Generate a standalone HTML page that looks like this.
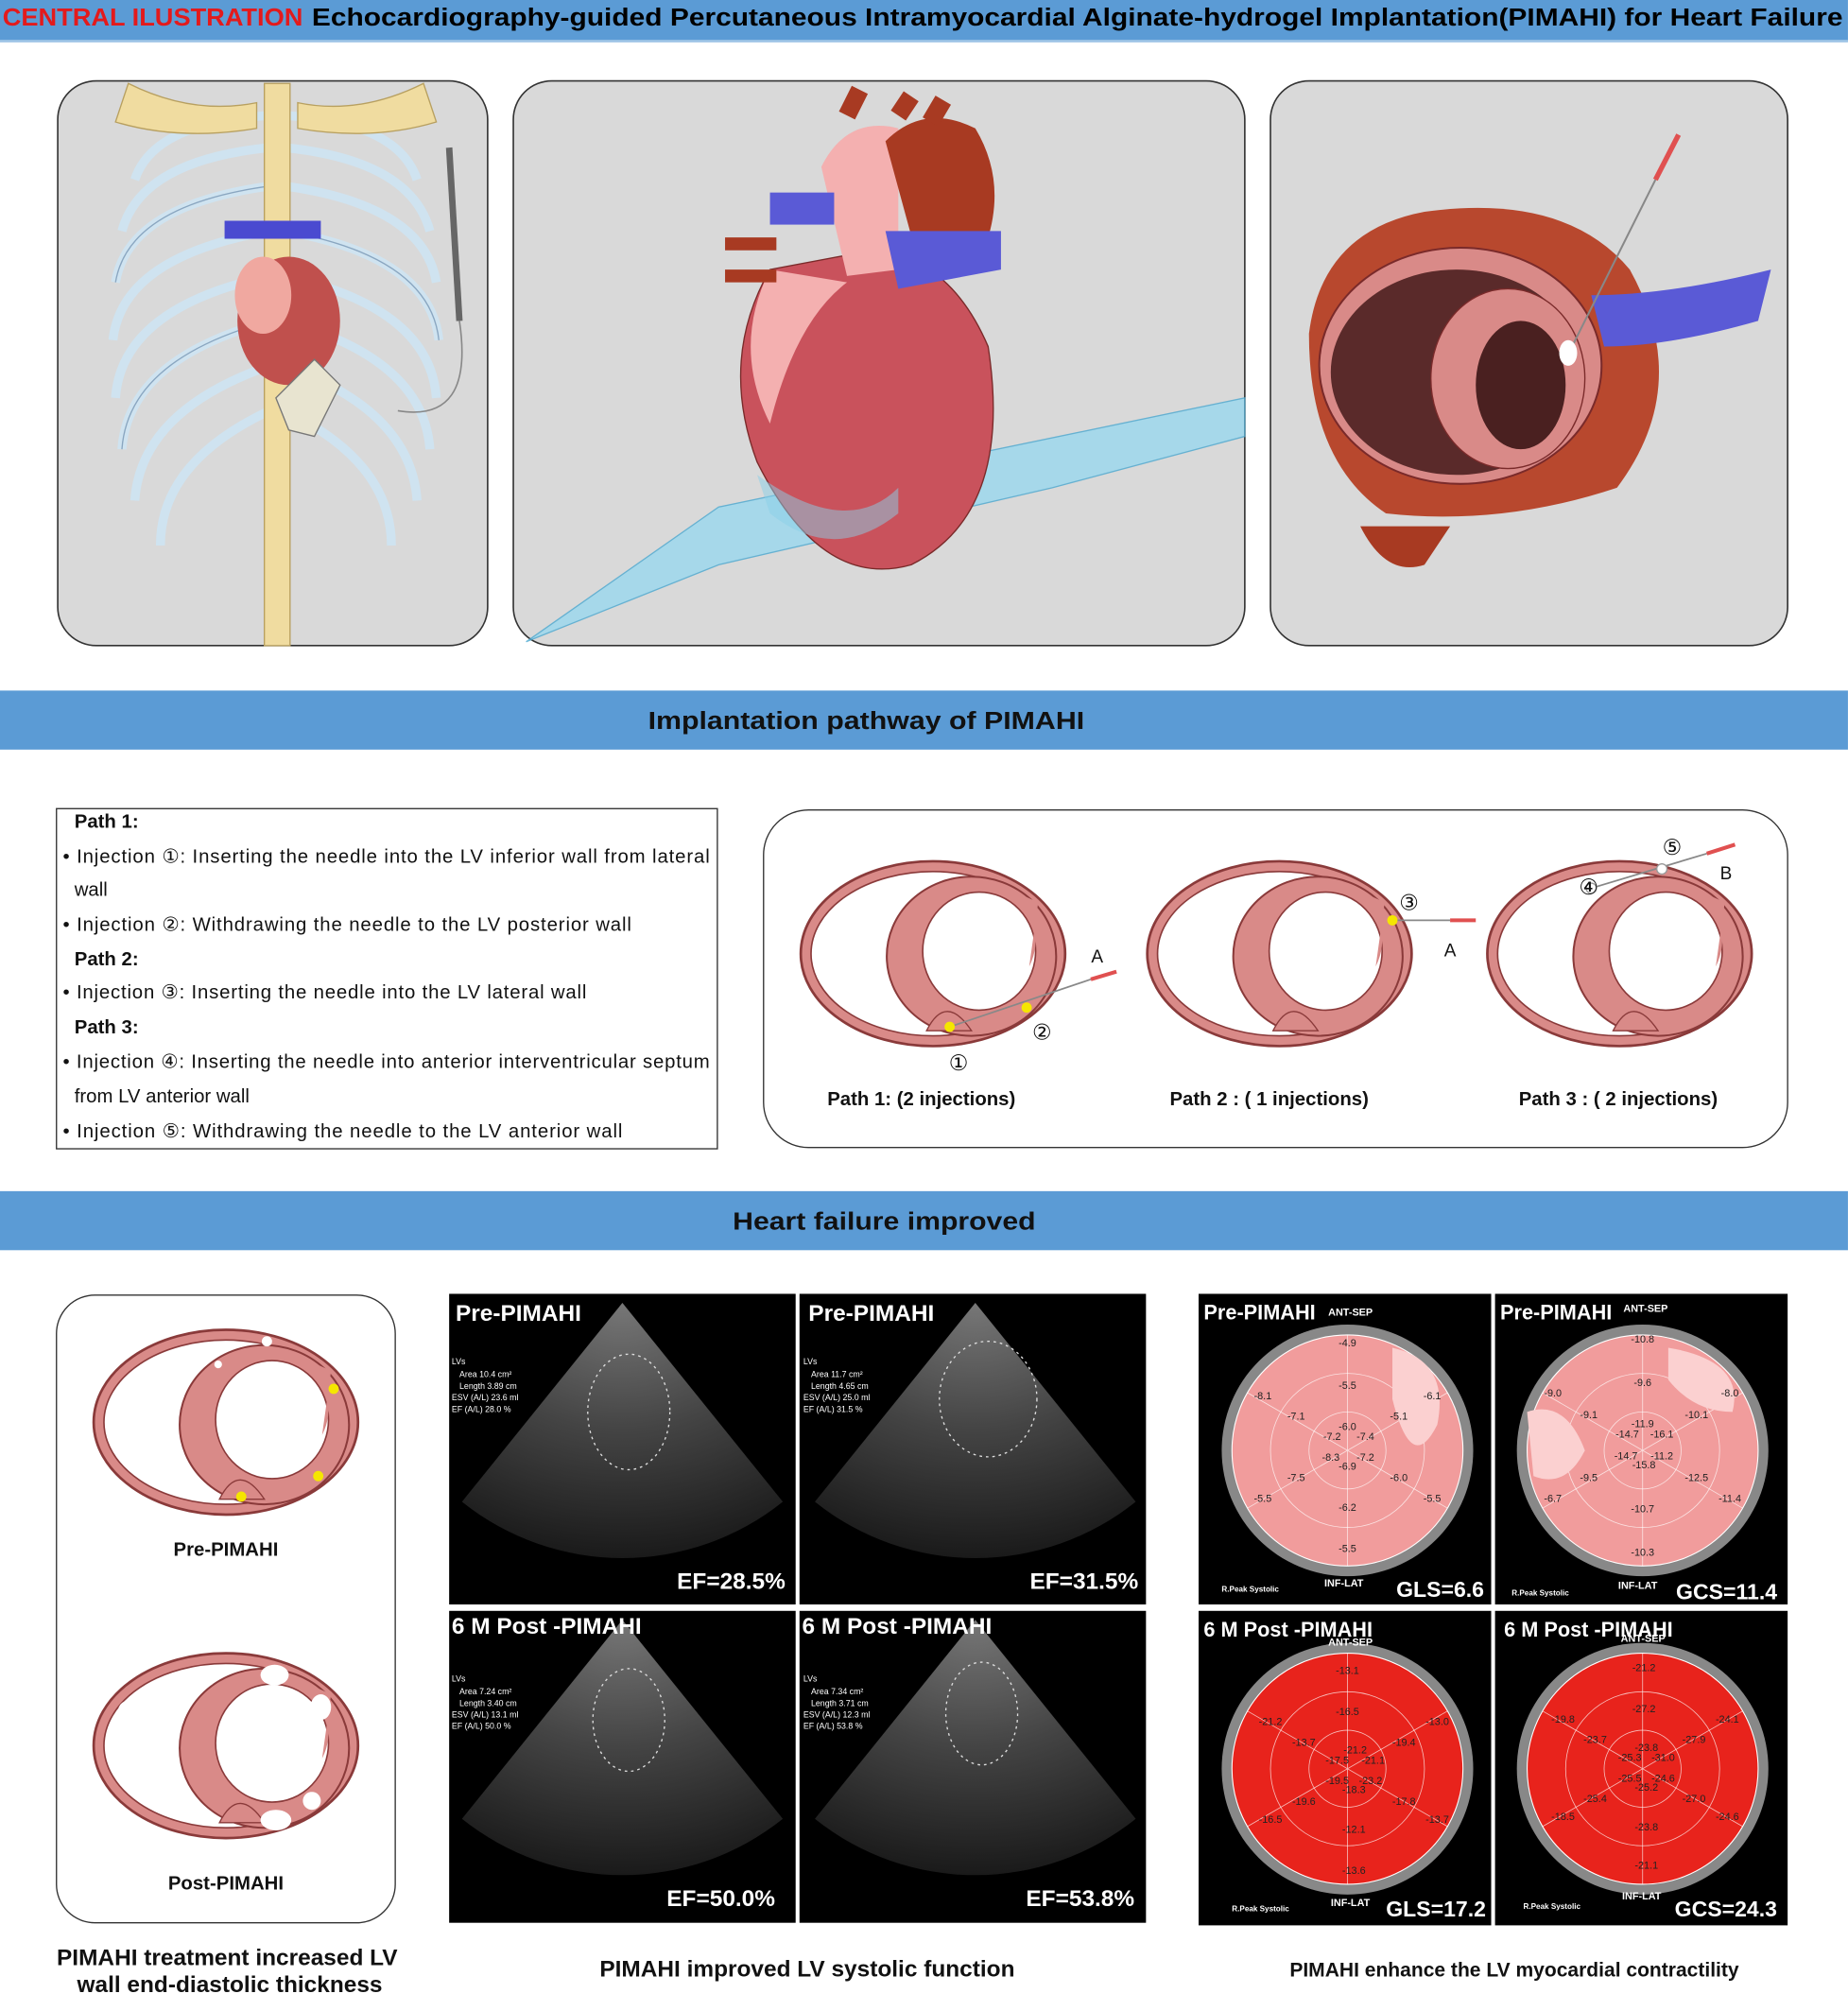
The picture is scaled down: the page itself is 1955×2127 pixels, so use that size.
<!DOCTYPE html>
<html><head><meta charset="utf-8"><style>
html,body{margin:0;padding:0;background:#fff;}
svg{display:block;}
text{font-family:"Liberation Sans",sans-serif;}
</style></head><body>
<svg width="1955" height="2127" viewBox="0 0 1955 2127" xmlns="http://www.w3.org/2000/svg">
<defs>
<radialGradient id="fan" cx="0.5" cy="0" r="1">
<stop offset="0" stop-color="#777"/><stop offset="0.5" stop-color="#444"/><stop offset="1" stop-color="#1a1a1a"/>
</radialGradient>
<clipPath id="c1"><rect x="350" y="1008" width="270" height="242"/></clipPath>
<clipPath id="c2"><rect x="623" y="1008" width="270" height="242"/></clipPath>
<clipPath id="c3"><rect x="350" y="1255" width="270" height="243"/></clipPath>
<clipPath id="c4"><rect x="623" y="1255" width="270" height="243"/></clipPath>
<g id="xs">
<ellipse cx="0" cy="0" rx="103" ry="72" fill="#d98a88" stroke="#8a3a3a" stroke-width="2"/>
<ellipse cx="0" cy="0" rx="95" ry="64" fill="#fff" stroke="#8a3a3a" stroke-width="1.2"/>
<ellipse cx="30" cy="2" rx="66" ry="62" fill="#d98a88" stroke="#8a3a3a" stroke-width="1.5"/>
<ellipse cx="36" cy="-2" rx="44" ry="46" fill="#fff" stroke="#8a3a3a" stroke-width="1.2"/>
<path d="M-5 60 Q10 30 30 60 Z" fill="#d98a88" stroke="#8a3a3a"/>
<path d="M60 -50 Q90 -20 75 10 L82 -40 Z" fill="#d98a88"/>
</g>
<g id="bull">
<circle cx="0" cy="0" r="98" fill="#888"/>
<circle cx="0" cy="0" r="90" fill="currentColor" stroke="#fff" stroke-width="0.8"/>
<circle cx="0" cy="0" r="60" fill="none" stroke="#fff" stroke-width="0.6" opacity="0.7"/>
<circle cx="0" cy="0" r="30" fill="none" stroke="#fff" stroke-width="0.6" opacity="0.7"/>
<g stroke="#fff" stroke-width="0.6" opacity="0.7">
<line x1="0" y1="-90" x2="0" y2="90"/><line x1="-78" y1="-45" x2="78" y2="45"/><line x1="-78" y1="45" x2="78" y2="-45"/>
</g>
</g>
</defs>
<g transform="scale(1.3576)">
<rect x="0" y="0" width="1440" height="32" fill="#5b9bd5"/>
<rect x="0" y="31" width="1440" height="2" fill="#9cc3e6"/>
<text x="2" y="20" font-size="19" font-weight="bold" fill="#e31a1c" textLength="234" lengthAdjust="spacingAndGlyphs">CENTRAL ILUSTRATION</text>
<text x="243" y="20" font-size="19" font-weight="bold" fill="#000" textLength="1193" lengthAdjust="spacingAndGlyphs">Echocardiography-guided Percutaneous Intramyocardial Alginate-hydrogel Implantation(PIMAHI) for  Heart Failure</text>

<rect x="45" y="63" width="335" height="440" rx="30" fill="#d9d9d9" stroke="#333" stroke-width="1.2"/>
<g fill="none" stroke="#cfe3f0" stroke-width="7">
<path d="M210 90 Q120 95 105 140"/><path d="M222 90 Q310 95 325 140"/>
<path d="M210 115 Q110 125 95 180"/><path d="M222 115 Q320 125 335 180"/>
<path d="M210 145 Q100 160 90 220"/><path d="M222 145 Q330 160 340 220"/>
<path d="M210 180 Q95 200 88 265"/><path d="M222 180 Q335 200 342 265"/>
<path d="M210 215 Q95 240 90 310"/><path d="M222 215 Q335 240 340 310"/>
<path d="M210 250 Q100 280 95 350"/><path d="M222 250 Q330 280 335 350"/>
<path d="M210 285 Q110 320 105 390"/><path d="M222 285 Q320 320 325 390"/>
<path d="M210 320 Q125 360 125 425"/><path d="M222 320 Q305 360 305 425"/>
</g>
<g fill="none" stroke="#8aa6c0" stroke-width="1"><path d="M210 145 Q100 160 90 220"/><path d="M222 180 Q335 200 342 265"/><path d="M210 250 Q100 280 95 350"/></g>
<rect x="206" y="65" width="20" height="438" fill="#f0dca0" stroke="#b8a060" stroke-width="1"/>
<path d="M100 65 Q150 90 200 80 L200 100 Q140 110 90 95 Z" fill="#f0dca0" stroke="#b8a060"/>
<path d="M330 65 Q280 90 232 80 L232 100 Q290 110 340 95 Z" fill="#f0dca0" stroke="#b8a060"/>
<ellipse cx="225" cy="250" rx="40" ry="50" fill="#c0504d"/>
<ellipse cx="205" cy="230" rx="22" ry="30" fill="#f0a8a0"/>
<rect x="175" y="172" width="75" height="14" fill="#4a4ad0"/>
<path d="M215 310 L245 280 L265 300 L245 340 L225 335 Z" fill="#e8e4d0" stroke="#777"/>
<line x1="350" y1="115" x2="358" y2="250" stroke="#666" stroke-width="5"/>
<path d="M358 250 Q370 330 310 320" fill="none" stroke="#888" stroke-width="1.2"/>

<rect x="400" y="63" width="570" height="440" rx="30" fill="#d9d9d9" stroke="#333" stroke-width="1.2"/>
<path d="M410 500 L560 395 L970 310 L970 340 L820 380 L560 440 Z" fill="#9ad8ef" opacity="0.8" stroke="#4aa8d0"/>
<path d="M600 210 Q560 280 590 360 Q640 460 710 440 Q790 400 770 270 Q740 200 680 195 Z" fill="#c9525c" stroke="#7a2a2a"/>
<path d="M600 210 Q570 270 600 330 Q620 250 660 220 Z" fill="#f4b0b0"/>
<path d="M640 130 Q660 90 700 100 L700 210 L660 215 Z" fill="#f4b0b0"/>
<path d="M690 110 Q720 80 760 100 Q790 150 760 210 L720 220 Z" fill="#a83a22"/>
<path d="M660 90 L670 70 M700 90 L710 75 M725 95 L735 78" stroke="#a83a22" stroke-width="14"/>
<path d="M690 180 L780 180 L780 210 L700 225 Z" fill="#5a5ad6"/>
<rect x="600" y="150" width="50" height="25" fill="#5a5ad6"/>
<path d="M565 190 L605 190 M565 215 L605 215" stroke="#a83a22" stroke-width="10"/>
<path d="M590 370 Q660 420 700 380 L700 400 Q650 440 600 400 Z" fill="#8ad0e8" opacity="0.5"/>

<rect x="990" y="63" width="403" height="440" rx="30" fill="#d9d9d9" stroke="#333" stroke-width="1.2"/>
<path d="M1020 260 Q1030 180 1110 165 Q1220 150 1270 210 Q1320 300 1260 380 Q1170 410 1080 400 Q1020 360 1020 260 Z" fill="#b8482e"/>
<ellipse cx="1138" cy="285" rx="110" ry="92" fill="#d98a88" stroke="#7a2a2a" stroke-width="1.5"/>
<ellipse cx="1135" cy="290" rx="98" ry="80" fill="#5a2a2a"/>
<ellipse cx="1175" cy="295" rx="60" ry="70" fill="#d98a88" stroke="#7a2a2a"/>
<ellipse cx="1185" cy="300" rx="35" ry="50" fill="#4a2020"/>
<path d="M1240 230 Q1300 230 1380 210 L1370 250 Q1300 270 1250 270 Z" fill="#5a5ad6"/>
<path d="M1060 410 Q1080 450 1110 440 L1130 410 Z" fill="#a83a22"/>
<line x1="1225" y1="270" x2="1290" y2="140" stroke="#888" stroke-width="1.5"/>
<line x1="1290" y1="140" x2="1308" y2="105" stroke="#e05050" stroke-width="4"/>
<ellipse cx="1222" cy="275" rx="7" ry="10" fill="#fff"/>

<rect x="0" y="538" width="1440" height="46" fill="#5b9bd5"/>
<text x="675" y="568" font-size="19" font-weight="bold" text-anchor="middle" fill="#111" textLength="340" lengthAdjust="spacingAndGlyphs">Implantation pathway of PIMAHI</text>

<rect x="44" y="630" width="515" height="265" fill="#fff" stroke="#333" stroke-width="1"/>
<g font-size="15" fill="#111">
<text x="58" y="645" font-weight="bold">Path 1:</text>
<text x="49" y="672" textLength="504">• Injection ①: Inserting the needle into the LV inferior wall from lateral</text>
<text x="58" y="698">wall</text>
<text x="49" y="725" textLength="443">• Injection ②: Withdrawing the needle to the LV posterior wall</text>
<text x="58" y="752" font-weight="bold">Path 2:</text>
<text x="49" y="778" textLength="408">• Injection ③: Inserting the needle into the LV lateral wall</text>
<text x="58" y="805" font-weight="bold">Path 3:</text>
<text x="49" y="832" textLength="504">• Injection ④: Inserting the needle into anterior interventricular septum</text>
<text x="58" y="859">from LV anterior wall</text>
<text x="49" y="886" textLength="436">• Injection ⑤: Withdrawing the needle to the LV anterior wall</text>
</g>

<rect x="595" y="631" width="798" height="263" rx="35" fill="#fff" stroke="#333" stroke-width="1"/>
<use href="#xs" x="727" y="743"/>
<use href="#xs" x="997" y="743"/>
<use href="#xs" x="1262" y="743"/>
<g stroke="#888" stroke-width="1.3"><line x1="740" y1="800" x2="850" y2="763"/><line x1="1085" y1="717" x2="1130" y2="717"/><line x1="1240" y1="692" x2="1330" y2="665"/></g>
<g stroke="#e05050" stroke-width="3"><line x1="850" y1="763" x2="870" y2="757"/><line x1="1130" y1="717" x2="1150" y2="717"/><line x1="1330" y1="665" x2="1352" y2="658"/></g>
<g fill="#f5e600"><circle cx="740" cy="800" r="4"/><circle cx="800" cy="785" r="4"/><circle cx="1085" cy="717" r="4"/></g>
<g fill="#fff" stroke="#999"><circle cx="1240" cy="692" r="4"/><circle cx="1295" cy="677" r="4"/></g>
<g font-size="17" fill="#111" text-anchor="middle">
<text x="747" y="834">①</text><text x="812" y="810">②</text><text x="1098" y="709">③</text><text x="1238" y="697">④</text><text x="1303" y="666">⑤</text>
<text x="855" y="750" font-size="14">A</text><text x="1130" y="745" font-size="14">A</text><text x="1345" y="685" font-size="14">B</text>
</g>
<g font-size="15" font-weight="bold" fill="#111" text-anchor="middle">
<text x="718" y="861">Path 1: (2 injections)</text>
<text x="989" y="861">Path 2 : ( 1 injections)</text>
<text x="1261" y="861">Path 3 : ( 2 injections)</text>
</g>

<rect x="0" y="928" width="1440" height="46" fill="#5b9bd5"/>
<text x="689" y="958" font-size="19" font-weight="bold" text-anchor="middle" fill="#111" textLength="236" lengthAdjust="spacingAndGlyphs">Heart failure improved</text>

<rect x="44" y="1009" width="264" height="489" rx="30" fill="#fff" stroke="#333" stroke-width="1"/>
<use href="#xs" x="176" y="1108"/>
<use href="#xs" x="176" y="1360"/>
<g fill="#f5e600"><circle cx="188" cy="1166" r="4"/><circle cx="248" cy="1150" r="4"/><circle cx="260" cy="1082" r="4"/></g>
<g fill="#fff"><circle cx="208" cy="1045" r="4"/><circle cx="170" cy="1063" r="3"/>
<ellipse cx="214" cy="1305" rx="11" ry="8"/><ellipse cx="250" cy="1330" rx="8" ry="10"/><ellipse cx="215" cy="1418" rx="12" ry="8"/><ellipse cx="100" cy="1333" rx="8" ry="8"/><ellipse cx="243" cy="1403" rx="7" ry="7"/><ellipse cx="160" cy="1307" rx="8" ry="7"/></g>
<g font-size="15" font-weight="bold" fill="#111" text-anchor="middle">
<text x="176" y="1212">Pre-PIMAHI</text>
<text x="176" y="1472">Post-PIMAHI</text>
</g>
<g font-size="18" font-weight="bold" fill="#111" text-anchor="middle">
<text x="177" y="1531">PIMAHI treatment increased LV</text>
<text x="179" y="1552">wall end-diastolic thickness</text>
<text x="629" y="1540">PIMAHI improved LV systolic function</text>
<text x="1180" y="1540" font-size="15.5">PIMAHI enhance the LV myocardial contractility</text>
</g>

<rect x="350" y="1008" width="270" height="242" fill="#000"/>
<rect x="623" y="1008" width="270" height="242" fill="#000"/>
<rect x="350" y="1255" width="270" height="243" fill="#000"/>
<rect x="623" y="1255" width="270" height="243" fill="#000"/>
<path clip-path="url(#c1)" d="M485 1015 L360 1170 A200 200 0 0 0 610 1170 Z" fill="url(#fan)"/>
<path clip-path="url(#c2)" d="M760 1015 L635 1170 A200 200 0 0 0 885 1170 Z" fill="url(#fan)"/>
<path clip-path="url(#c3)" d="M485 1262 L360 1417 A200 200 0 0 0 610 1417 Z" fill="url(#fan)"/>
<path clip-path="url(#c4)" d="M760 1262 L635 1417 A200 200 0 0 0 885 1417 Z" fill="url(#fan)"/>
<g fill="none" stroke="#ddd" stroke-dasharray="2,3"><ellipse cx="490" cy="1100" rx="32" ry="45"/><ellipse cx="770" cy="1090" rx="38" ry="45"/><ellipse cx="490" cy="1340" rx="28" ry="40"/><ellipse cx="765" cy="1335" rx="28" ry="40"/></g>
<g font-size="18" font-weight="bold" fill="#fff">
<text x="355" y="1029">Pre-PIMAHI</text><text x="630" y="1029">Pre-PIMAHI</text>
<text x="352" y="1273">6 M Post -PIMAHI</text><text x="625" y="1273">6 M Post -PIMAHI</text>
<text x="612" y="1238" text-anchor="end">EF=28.5%</text><text x="887" y="1238" text-anchor="end">EF=31.5%</text>
<text x="604" y="1485" text-anchor="end">EF=50.0%</text><text x="884" y="1485" text-anchor="end">EF=53.8%</text>
</g>
<g font-size="6.5" fill="#fff">
<text x="352" y="1063">LVs</text><text x="358" y="1073">Area    10.4 cm²</text><text x="358" y="1082">Length  3.89 cm</text><text x="352" y="1091">ESV (A/L)  23.6 ml</text><text x="352" y="1100">EF (A/L)    28.0 %</text>
<text x="626" y="1063">LVs</text><text x="632" y="1073">Area    11.7 cm²</text><text x="632" y="1082">Length  4.65 cm</text><text x="626" y="1091">ESV (A/L)  25.0 ml</text><text x="626" y="1100">EF (A/L)    31.5 %</text>
<text x="352" y="1310">LVs</text><text x="358" y="1320">Area    7.24 cm²</text><text x="358" y="1329">Length  3.40 cm</text><text x="352" y="1338">ESV (A/L)  13.1 ml</text><text x="352" y="1347">EF (A/L)    50.0 %</text>
<text x="626" y="1310">LVs</text><text x="632" y="1320">Area    7.34 cm²</text><text x="632" y="1329">Length  3.71 cm</text><text x="626" y="1338">ESV (A/L)  12.3 ml</text><text x="626" y="1347">EF (A/L)    53.8 %</text>
</g>

<rect x="934" y="1008" width="228" height="242" fill="#000"/>
<rect x="1165" y="1008" width="228" height="242" fill="#000"/>
<rect x="934" y="1255" width="228" height="245" fill="#000"/>
<rect x="1165" y="1255" width="228" height="245" fill="#000"/>
<use href="#bull" x="1050" y="1130" color="#f19c9c"/>
<use href="#bull" x="1280" y="1130" color="#f19c9c"/>
<use href="#bull" x="1050" y="1378" color="#e8231c"/>
<use href="#bull" x="1280" y="1378" color="#e8231c"/>
<path d="M1085 1050 Q1130 1060 1120 1110 Q1100 1150 1085 1090 Z" fill="#fbd0d0"/>
<path d="M1300 1050 Q1360 1060 1350 1100 Q1320 1100 1300 1075 Z" fill="#fbd0d0"/>
<path d="M1190 1100 Q1220 1090 1235 1130 Q1220 1160 1195 1150 Z" fill="#fbd0d0"/>
<g font-size="16" font-weight="bold" fill="#fff">
<text x="938" y="1028">Pre-PIMAHI</text><text x="1169" y="1028">Pre-PIMAHI</text>
<text x="938" y="1275">6 M Post -PIMAHI</text><text x="1172" y="1275">6 M Post -PIMAHI</text>
<text x="1088" y="1244" font-size="17">GLS=6.6</text><text x="1306" y="1246" font-size="17">GCS=11.4</text>
<text x="1080" y="1493" font-size="17">GLS=17.2</text><text x="1305" y="1493" font-size="17">GCS=24.3</text>
</g>
<g font-size="8" fill="#fff" font-weight="bold">
<text x="1035" y="1025">ANT-SEP</text><text x="1265" y="1022">ANT-SEP</text><text x="1035" y="1282">ANT-SEP</text><text x="1263" y="1279">ANT-SEP</text>
<text x="1032" y="1236">INF-LAT</text><text x="1261" y="1238">INF-LAT</text><text x="1037" y="1485">INF-LAT</text><text x="1264" y="1480">INF-LAT</text>
<text x="952" y="1240" font-size="6">R.Peak Systolic</text><text x="1178" y="1243" font-size="6">R.Peak Systolic</text>
<text x="960" y="1489" font-size="6">R.Peak Systolic</text><text x="1187" y="1487" font-size="6">R.Peak Systolic</text>
</g>
<g font-size="8" fill="#222" text-anchor="middle">
<text x="1050" y="1049">-4.9</text><text x="1050" y="1082">-5.5</text><text x="984" y="1090">-8.1</text><text x="1010" y="1106">-7.1</text><text x="1050" y="1114">-6.0</text><text x="1038" y="1122">-7.2</text><text x="1064" y="1122">-7.4</text><text x="1090" y="1106">-5.1</text><text x="1116" y="1090">-6.1</text><text x="1037" y="1138">-8.3</text><text x="1064" y="1138">-7.2</text><text x="1050" y="1145">-6.9</text><text x="1010" y="1154">-7.5</text><text x="1090" y="1154">-6.0</text><text x="984" y="1170">-5.5</text><text x="1116" y="1170">-5.5</text><text x="1050" y="1177">-6.2</text><text x="1050" y="1209">-5.5</text>
<text x="1280" y="1046">-10.8</text><text x="1280" y="1080">-9.6</text><text x="1210" y="1088">-9.0</text><text x="1238" y="1105">-9.1</text><text x="1280" y="1112">-11.9</text><text x="1268" y="1120">-14.7</text><text x="1295" y="1120">-16.1</text><text x="1322" y="1105">-10.1</text><text x="1348" y="1088">-8.0</text><text x="1267" y="1137">-14.7</text><text x="1295" y="1137">-11.2</text><text x="1281" y="1144">-15.8</text><text x="1238" y="1154">-9.5</text><text x="1322" y="1154">-12.5</text><text x="1210" y="1170">-6.7</text><text x="1348" y="1170">-11.4</text><text x="1280" y="1178">-10.7</text><text x="1280" y="1212">-10.3</text>
<text x="1050" y="1304">-13.1</text><text x="1050" y="1336">-16.5</text><text x="990" y="1344">-21.2</text><text x="1016" y="1360">-13.7</text><text x="1056" y="1366">-21.2</text><text x="1042" y="1374">-17.5</text><text x="1070" y="1374">-21.1</text><text x="1094" y="1360">-19.4</text><text x="1120" y="1344">-13.0</text><text x="1042" y="1390">-19.5</text><text x="1068" y="1390">-23.2</text><text x="1055" y="1397">-18.3</text><text x="1016" y="1406">-19.6</text><text x="1094" y="1406">-17.8</text><text x="990" y="1420">-16.5</text><text x="1120" y="1420">-13.7</text><text x="1055" y="1428">-12.1</text><text x="1055" y="1460">-13.6</text>
<text x="1281" y="1302">-21.2</text><text x="1281" y="1334">-27.2</text><text x="1218" y="1342">-19.8</text><text x="1243" y="1358">-23.7</text><text x="1283" y="1364">-23.8</text><text x="1270" y="1372">-25.3</text><text x="1296" y="1372">-31.0</text><text x="1320" y="1358">-27.9</text><text x="1346" y="1342">-24.1</text><text x="1270" y="1388">-25.5</text><text x="1296" y="1388">-24.6</text><text x="1283" y="1395">-25.2</text><text x="1243" y="1404">-25.4</text><text x="1320" y="1404">-27.0</text><text x="1218" y="1418">-18.5</text><text x="1346" y="1418">-24.6</text><text x="1283" y="1426">-23.8</text><text x="1283" y="1456">-21.1</text>
</g>
</g>
</svg>
</body></html>
